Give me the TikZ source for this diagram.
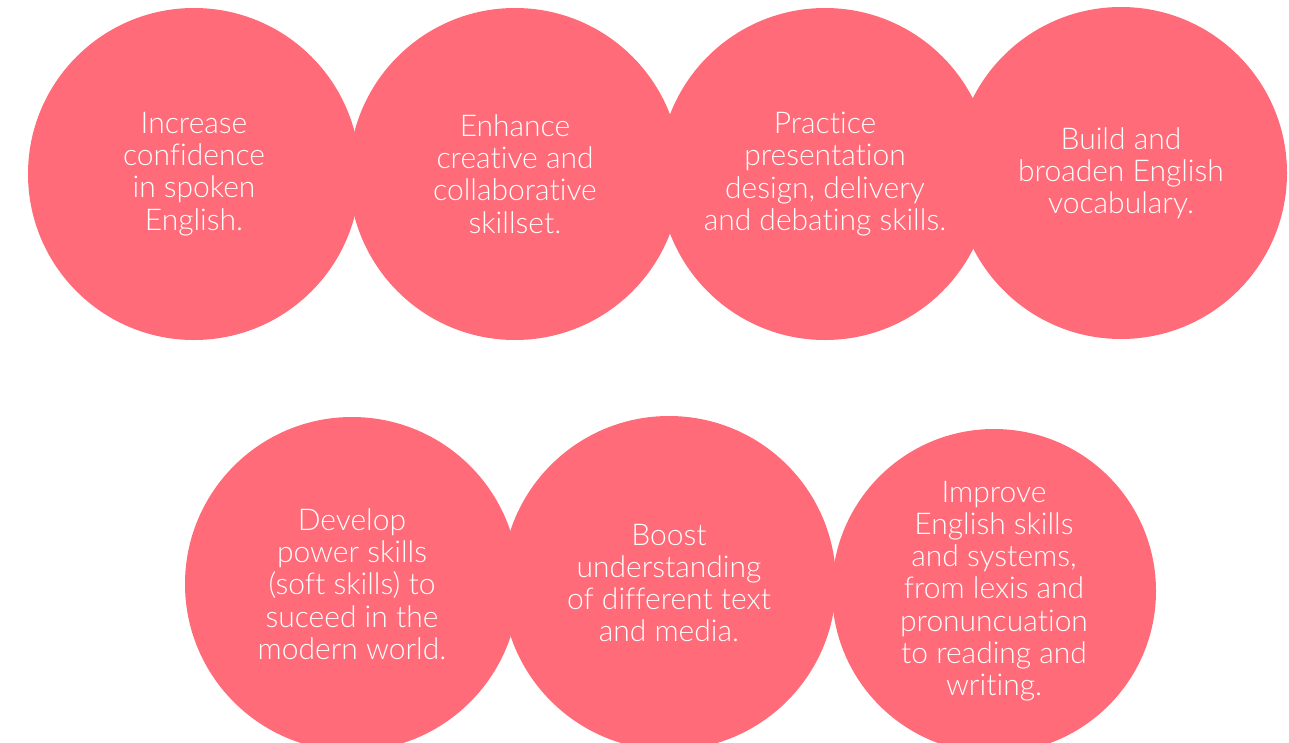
\documentclass[tikz,border=0pt]{standalone}
\usepackage{fontspec}
\setmainfont{Lato}[UprightFont={* Light},Ligatures=NoCommon]
\definecolor{goalpink}{RGB}{255,107,120}

\begin{document}
\begin{tikzpicture}[x=1pt,y=-1pt]
	\tikzstyle{every node}+=[inner sep=0pt]
	\tikzstyle{goal}=[circle,fill=goalpink,text=white,align=center,
		font=\fontsize{30}{32.2}\selectfont]
	\useasboundingbox (0,0) rectangle (1289,742);
	% top row
	\node[goal,minimum size=332] (confidence) at (194,174) {Increase\\confidence\\in spoken\\English.};
	\node[goal,minimum size=332] (creative) at (515,174) {Enhance\\creative and\\collaborative\\skillset.};
	\node[goal,minimum size=332] (presentation) at (825,174) {Practice\\presentation\\design, delivery\\and debating skills.};
	\node[goal,minimum size=332] (vocabulary) at (1121,173) {Build and\\broaden English\\vocabulary.};
	% bottom row
	\node[goal,minimum size=334] (power) at (352,584) {Develop\\power skills\\(soft skills) to\\suceed in the\\modern world.};
	\node[goal,minimum size=334] (media) at (669,583) {Boost\\understanding\\of different text\\and media.};
	\node[goal,minimum size=324] (systems) at (994,591) {Improve\\English skills\\and systems,\\from lexis and\\pronuncuation\\to reading and\\writing.};
\end{tikzpicture}
\end{document}
